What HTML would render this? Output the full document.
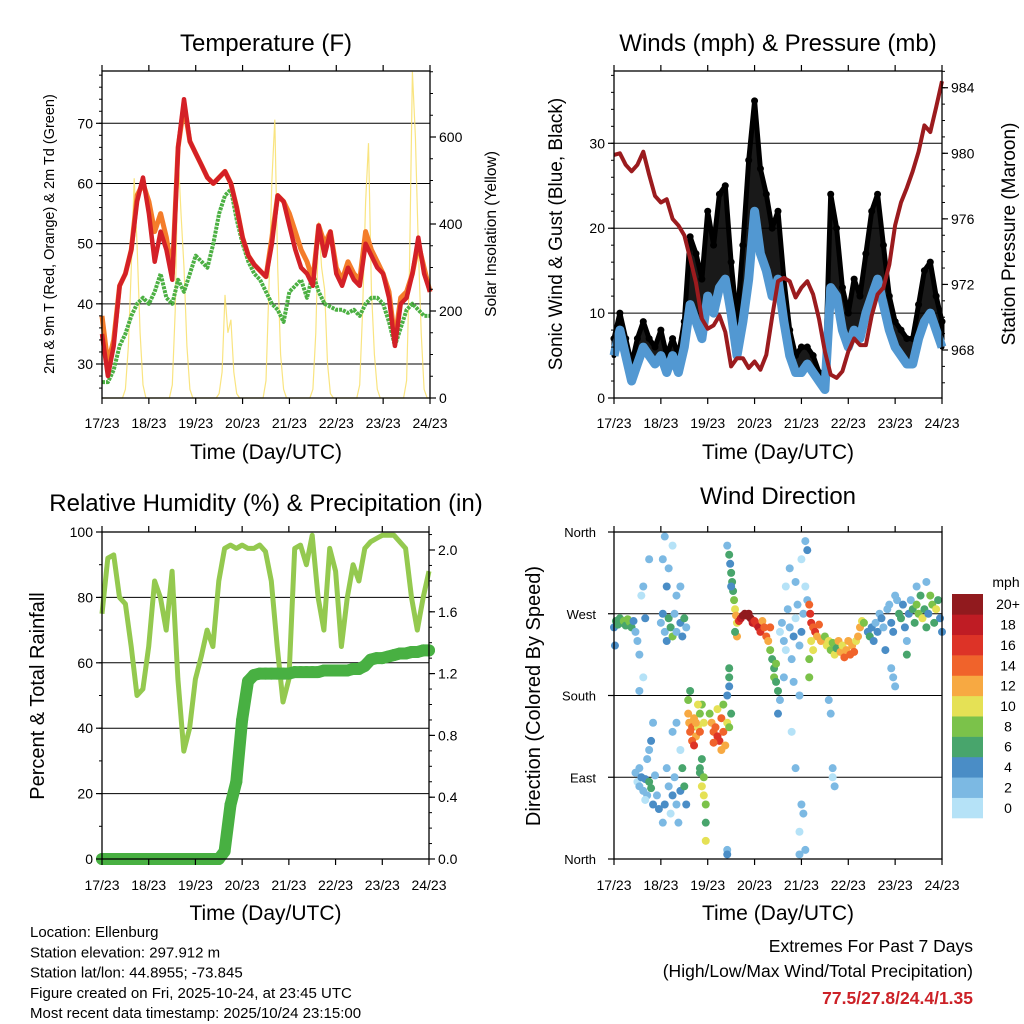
<!DOCTYPE html>
<html><head><meta charset="utf-8">
<style>
html,body{margin:0;padding:0;background:#fff;}
svg{display:block;font-family:"Liberation Sans",Arial,sans-serif;}
</style></head>
<body>
<svg id="fig" width="1024" height="1024" viewBox="0 0 1024 1024"></svg>
<script>
// ---------- DATA ----------
const tempRed=[35,28,33,43,45,49,57,61,55,47,52,49,44,66,74,67,65,63,61,60,61,62,60,56,51,48,46.5,45.5,44.5,50,58,57,53,49,46,45,43,53,48,52,45,43,46,44,43,50,48,46,45,41,33,40,41,45,51,45,42];
const tempOrange=[38,30,34,43,45,49,58,60,57,52,55,51,45,66,73,67,65,63,61,60,61,62,60,56,51,48,46.5,45.5,44.5,51,58,57,55,52,49,47,44,53,50,52,46,44,47,45,44,52,49,47,45,42,34,41,42,45,50,46,42];
const dewGreen=[27,27,29,33,35,38,40,41,40,42,45,41,40,44,42,45,48,47,46,50,55,58,59,54,50,47,45,44,42,40,39,37,42,43,44,41,45,42,40,39.5,39,39,38.5,39,38,40,41,41,40,37,33,36,39,40,39,38,38];
const solar=[0,0,0,0,0,0,0,0,20,120,300,505,350,150,30,0,
0,0,0,0,0,0,0,0,30,200,563,420,300,120,20,0,
0,0,0,0,0,0,0,0,10,60,237,150,180,60,10,0,
0,0,0,0,0,0,0,0,40,250,500,640,300,100,20,0,
0,0,0,0,0,0,0,0,20,150,405,300,250,80,10,0,
0,0,0,0,0,0,0,0,30,200,450,586,250,100,20,0,
0,0,0,0,0,0,0,0,40,300,750,600,350,150,20,0,0];
const windSpd=[5,8,5,2,4,6,5,4,5,3,5,3,6,11,9,7,12,10,13,14,10,5,9,14,22,17,15,12,14,9,5,3,3,4,3,2,1,13,12,8,6,8,7,10,12,14,11,8,6,5,4,4,7,9,10,8,6];
const windGust=[7,10,7,4,7,9,7,6,8,5,7,5,9,19,17,14,22,18,24,25,16,9,18,28,35,27,24,20,22,14,8,5,6,6,5,3,2,24,20,13,10,14,12,17,22,24,18,12,9,8,7,7,11,15,16,12,9];
const pressure=[979.9,980,979.3,978.9,979.3,980.1,978.7,977.4,977,977.2,976,975.6,975,973.6,972.1,969.9,969.3,969.5,970.1,969.1,967,967.5,967.5,966.9,967.3,966.8,967.7,970,972.2,972.4,972.2,971.2,971.8,972.2,971.4,969.9,967.9,966.5,966.3,966.7,967.9,968.7,968.3,968.3,970.1,971.4,971.8,973.2,975.6,977,977.9,978.9,980.1,981.7,981.3,982.8,984.4];
const rhum=[75,92,93,80,78,65,50,52,65,85,80,70,88,55,33,40,55,62,70,65,85,95,96,95,96,95,95,96,94,85,65,48,55,95,96,90,99,80,70,95,88,65,80,90,85,95,97,98,99,99,99,97,95,80,70,80,88];
const precip=[0,0,0,0,0,0,0,0,0,0,0,0,0,0,0,0,0,0,0,0,0,0.05,0.35,0.5,0.9,1.15,1.19,1.2,1.2,1.2,1.2,1.2,1.2,1.21,1.21,1.21,1.21,1.21,1.22,1.22,1.22,1.22,1.22,1.23,1.23,1.25,1.29,1.3,1.3,1.31,1.32,1.33,1.33,1.34,1.34,1.35,1.35];
const dirObs=[[0,255,5],[1,262,6],[2,258,7],[3,265,7],[4,260,6],[5,262,8],[6,257,7],[7,264,8],[8,261,8],[9,255,7],[10,262,4],[11,250,3],[12,240,2],[0.5,235,4],
[13,225,3],[14,290,1],[13,185,2],[15,300,3],[16,265,4],[18,330,2],[15,200,1],
[11,95,2],[12,85,1],[13,80,3],[14,90,4],[15,75,3],[16,88,5],[17,70,2],[18,85,6],[19,78,6],[20,60,4],[21,92,3],[22,70,2],[23,55,4],[13,100,2],[16,65,1],[17,110,3],[19,130,4],[20,150,3],[18,120,2],
[24,260,3],[25,270,4],[26,250,3],[27,240,4],[28,265,6],[29,255,7],[30,245,8],[31,270,2],[32,250,3],[34,260,4],[35,245,5],[36,265,6],[37,255,3],[25,330,3],[26,355,2],[27,300,4],[28,320,3],[30,345,1],[32,290,3],[34,300,2],
[25,40,3],[26,60,4],[27,100,2],[28,80,3],[29,50,1],[30,70,4],[31,90,3],[32,60,2],[33,40,3],[34,75,4],[35,100,6],[36,80,6],[37,60,5],[30,140,3],[32,150,2],[34,120,1],
[38,160,12],[38.5,150,13],[39,140,14],[40,145,15],[41,155,12],[42,135,13],[43,145,10],[44,160,9],[45,170,8],[46,150,11],[38,175,8],[39,185,7],[40,130,14],[41,125,16],[42,150,12],[43,170,10],[44,140,14],
[44,95,7],[45,110,6],[45,80,10],[46,70,10],[46,90,9],[47,60,8],[47,40,7],[47,20,10],[44,100,6],
[49,160,9],[50,150,12],[51,140,14],[52,145,15],[53,135,16],[54,130,17],[55,155,14],[56,140,15],[57,125,13],[58,150,10],[59,145,8],[60,160,6],[53,165,10],[56,170,8],[51,128,14],[55,120,12],[58,180,4],
[58,345,2],[59,335,6],[59.5,325,5],[60,315,6],[60.5,305,7],[61,295,6],[61.5,285,8],[62,275,10],[62.5,268,12],[63,260,10],[63,245,12],[62,250,6],[60,300,5],[59,200,7],[59,210,7],[58,10,2],[58,5,4],[59,190,4],
[64,262,16],[65,265,18],[66,268,20],[67,270,21],[68,268,20],[69,270,22],[70,265,20],[71,260,18],[72,262,17],[73,258,16],[74,255,18],[75,250,16],[76,262,13],[77,255,14],[78,245,15],[79,240,12],[80,255,14],
[80,230,8],[81,220,7],[82,210,6],[82,200,8],[83,195,7],[84,185,6],[83,215,9],[85,175,3],[84,160,4],
[85,250,1],[86,260,2],[87,240,3],[88,230,1],[89,275,2],[90,255,3],[91,220,2],[92,245,4],[93,265,1],[94,280,2],[95,235,3],[96,250,4],[97,270,3],[98,300,1],[99,285,2],[88,300,1],[90,320,2],[93,305,3],[96,330,1],[98,350,2],[99,340,4],[87,200,2],[92,195,3],[95,180,2],[91,140,1],[93,100,2],[96,60,3],[95,30,1],[97,50,3],[98,10,2],[95,5,3],
[100,280,14],[100.5,270,16],[101,260,17],[102,255,15],[103,250,16],[104,245,13],[105,258,14],[106,240,12],[101,240,10],[100,220,9],[100,200,8],[102,230,11],
[108,245,8],[109,235,10],[110,240,11],[111,230,9],[112,238,8],[113,225,10],[114,232,7],[115,240,12],[116,228,13],[117,235,11],[118,222,14],[119,230,12],[120,240,13],[121,225,15],[122,235,12],[123,228,14],[124,240,10],[125,245,12],[126,255,13],[127,262,11],[128,260,9],[110,175,3],[111,160,2],[112,100,2],[113,80,2],[112,90,1],
[130,250,4],[131,245,6],[132,255,5],[133,240,4],[134,260,3],[135,250,5],[136,270,2],[137,265,4],[138,255,3],[139,230,4],[140,275,3],[141,280,2],[142,260,4],[143,250,5],[144,290,2],[145,285,3],[146,270,6],[147,265,7],[148,280,5],[149,255,4],[150,240,3],[151,270,4],[152,285,3],[153,275,6],[154,260,7],[155,280,8],[156,270,9],[157,290,6],[158,265,10],[159,275,7],[160,255,6],[161,270,5],[162,290,8],[163,280,9],[164,260,6],[165,275,10],[166,285,7],[167,265,5],[168,250,4],[142,210,3],[143,200,2],[144,190,2],[150,225,7],[155,300,3],[160,305,2]];
const dayLabels=["17/23","18/23","19/23","20/23","21/23","22/23","23/23","24/23"];
const tempTicks=[30,40,50,60,70];
const solarTicks=[0,200,400,600];
const windTicks=[0,10,20,30];
const presTicks=[968,972,976,980,984];
const rhTicks=[0,20,40,60,80,100];
const precipTicks=[0,0.4,0.8,1.2,1.6,2.0];
const dirTicks=[0,90,180,270,360];
const dirNames=["North","East","South","West","North"];
const speedBins=["0","2","4","6","8","10","12","14","16","18","20+"];
const speedColors=["#b5e2f7","#7cb9e3","#4a8dc6","#48a56c","#7bc24a","#e5e155","#f7a942","#f0632b","#dd3327","#bf1c24","#911a1e"];

// ---------- HELPERS ----------
const NS="http://www.w3.org/2000/svg";
const svg=document.getElementById('fig');
function mk(tag,attrs,parent){const e=document.createElementNS(NS,tag);for(const k in attrs)e.setAttribute(k,attrs[k]);(parent||svg).appendChild(e);return e;}
function txt(s,x,y,size,anchor,parent,extra){const t=mk('text',Object.assign({x:x,y:y,'font-size':size,'text-anchor':anchor||'middle',fill:'#000'},extra||{}),parent);t.textContent=s;return t;}
function lin(d0,d1,r0,r1){return v=>r0+(v-d0)*(r1-r0)/(d1-d0);}
function ptsStr(xs,ys){return xs.map((x,i)=>x.toFixed(1)+','+ys[i].toFixed(1)).join(' ');}

function panel(name){
  const g=mk('g',{});
  
  
  return g;
}
function frame(g,x0,x1,y0,y1){
  const r=mk('rect',{x:x0,y:y0,width:x1-x0,height:y1-y0,fill:'none',stroke:'#000','stroke-width':1.3},g);
  
  
}
function xAxis(g,x0,x1,y0,y1,labelY,titleY){
  const ax=mk('g',{},g);
  
  
  const X=lin(0,7,x0,x1);
  for(let d=0;d<=7;d++){
    mk('line',{x1:X(d),x2:X(d),y1:y1,y2:y1+6,stroke:'#000','stroke-width':1.2},ax);
    mk('line',{x1:X(d),x2:X(d),y1:y0,y2:y0-6,stroke:'#000','stroke-width':1.2},ax);
    const t=txt(dayLabels[d],X(d),labelY,14,'middle',ax);
    
    
  }
  const tt=txt('Time (Day/UTC)',(x0+x1)/2,titleY,21,'middle',ax);
  
  
}
function grid(g,x0,x1,ys){
  ys.forEach(y=>mk('line',{x1:x0,x2:x1,y1:y,y2:y,stroke:'#000','stroke-width':1},g));
}
function yTicks(g,side,xEdge,vals,Y,fmt,nm,minorStep,vmin,vmax){
  const ax=mk('g',{},g);
  
  
  const dir=side==='left'?-1:1;
  vals.forEach(v=>{
    mk('line',{x1:xEdge,x2:xEdge+dir*6,y1:Y(v),y2:Y(v),stroke:'#000','stroke-width':1.2},ax);
    const t=txt(fmt(v),xEdge+dir*9,Y(v)+5,14,side==='left'?'end':'start',ax);
    
    
  });
  if(minorStep){for(let v=vmin;v<=vmax+1e-9;v+=minorStep){mk('line',{x1:xEdge,x2:xEdge+dir*3,y1:Y(v),y2:Y(v),stroke:'#000','stroke-width':1},ax);}}
}
function vTitle(g,s,x,y,size,nm){
  const t=txt(s,x,y,size,'middle',g,{transform:'rotate(-90 '+x+' '+y+')'});
  
  
}

// ---------- PANEL 1: TEMPERATURE ----------
(function(){
  const x0=102,x1=430,y0=71,y1=398;
  const g=panel('temperature-panel');
  const X3=lin(0,56,x0,x1), X15=lin(0,112,x0,x1);
  const Y=lin(30,70,364,123.3), YS=lin(0,600,398,137);
  grid(g,x0,x1,tempTicks.map(Y));
  const sol=mk('polyline',{points:ptsStr(solar.map((v,i)=>X15(i)),solar.map(YS)),fill:'none',stroke:'#f8df6a','stroke-width':1.2,'stroke-opacity':0.85},g);
  
  
  const dg=mk('polyline',{points:ptsStr(dewGreen.map((v,i)=>X3(i)),dewGreen.map(Y)),fill:'none',stroke:'#4cb043','stroke-width':4,'stroke-dasharray':'3 1','stroke-linejoin':'round'},g);
  
  
  const og=mk('polyline',{points:ptsStr(tempOrange.map((v,i)=>X3(i)),tempOrange.map(Y)),fill:'none',stroke:'#f47c2a','stroke-width':5,'stroke-linejoin':'round'},g);
  
  
  const rd=mk('polyline',{points:ptsStr(tempRed.map((v,i)=>X3(i)),tempRed.map(Y)),fill:'none',stroke:'#d42027','stroke-width':4.5,'stroke-linejoin':'round'},g);
  
  
  frame(g,x0,x1,y0,y1);
  yTicks(g,'left',x0,tempTicks,Y,v=>String(v),'temperature-y-axis',2,26,78);
  yTicks(g,'right',x1,solarTicks,YS,v=>String(v),'solar-y-axis',50,0,750);
  xAxis(g,x0,x1,y0,y1,428,459);
  const t=txt('Temperature (F)',266,51,24,'middle',g);
  
  
  vTitle(g,'2m & 9m T (Red, Orange) & 2m Td (Green)',54,234,14.5,'temperature-y-axis-title');
  vTitle(g,'Solar Insolation (Yellow)',496,234,15.5,'solar-y-axis-title');
})();

// ---------- PANEL 2: WINDS ----------
(function(){
  const x0=614,x1=942,y0=71,y1=398;
  const g=panel('winds-panel');
  const X3=lin(0,56,x0,x1);
  const Y=lin(0,30,398,143.3), YP=lin(968,980,350,153.3);
  grid(g,x0,x1,windTicks.slice(1).map(Y));
  const xs=windSpd.map((v,i)=>X3(i));
  const band=mk('polygon',{points:ptsStr(xs.concat(xs.slice().reverse()),windGust.map(Y).concat(windSpd.map(Y).reverse())),fill:'#000','fill-opacity':0.9,stroke:'#000','stroke-width':5,'stroke-linejoin':'round'},g);
  
  
  windGust.forEach((v,i)=>{
    const c=mk('circle',{cx:X3(i),cy:Y(v),r:3.5,fill:'#000'},g);
    
    
  });
  const bl=mk('polyline',{points:ptsStr(xs,windSpd.map(Y)),fill:'none',stroke:'#5298d2','stroke-width':9,'stroke-linejoin':'round'},g);
  
  
  const pr=mk('polyline',{points:ptsStr(xs,pressure.map(YP)),fill:'none',stroke:'#9b1b1e','stroke-width':4,'stroke-linejoin':'round'},g);
  
  
  frame(g,x0,x1,y0,y1);
  yTicks(g,'left',x0,windTicks,Y,v=>String(v),'wind-y-axis',2,0,38);
  yTicks(g,'right',x1,presTicks,YP,v=>String(v),'pressure-y-axis',1,966,985);
  xAxis(g,x0,x1,y0,y1,428,459);
  const t=txt('Winds (mph) & Pressure (mb)',778,51,24,'middle',g);
  
  
  vTitle(g,'Sonic Wind & Gust (Blue, Black)',562,234,19,'wind-y-axis-title');
  vTitle(g,'Station Pressure (Maroon)',1015,234,19,'pressure-y-axis-title');
})();

// ---------- PANEL 3: RH & PRECIP ----------
(function(){
  const x0=102,x1=429,y0=532,y1=859;
  const g=panel('humidity-panel');
  const X3=lin(0,56,x0,x1);
  const Y=lin(0,100,859,532), YP=lin(0,2,859,550);
  grid(g,x0,x1,[20,40,60,80].map(Y));
  const xs=rhum.map((v,i)=>X3(i));
  const rh=mk('polyline',{points:ptsStr(xs,rhum.map(Y)),fill:'none',stroke:'#94c94f','stroke-width':5,'stroke-linejoin':'round'},g);
  
  
  const pc=mk('polyline',{points:ptsStr(xs,precip.map(YP)),fill:'none',stroke:'#48b042','stroke-width':12,'stroke-linejoin':'round','stroke-linecap':'round'},g);
  
  
  precip.forEach((v,i)=>{
    const c=mk('circle',{cx:X3(i),cy:YP(v),r:6,fill:'#48b042'},g);
    
    
  });
  frame(g,x0,x1,y0,y1);
  yTicks(g,'left',x0,rhTicks,Y,v=>String(v),'humidity-y-axis',10,0,100);
  yTicks(g,'right',x1,precipTicks,YP,v=>v.toFixed(1),'precip-y-axis',0.1,0,2.1);
  xAxis(g,x0,x1,y0,y1,890,920);
  const t=txt('Relative Humidity (%) & Precipitation (in)',266,511,24,'middle',g);
  
  
  vTitle(g,'Percent & Total Rainfall',44,696,20,'humidity-y-axis-title');
})();

// ---------- PANEL 4: WIND DIRECTION ----------
(function(){
  const x0=614,x1=942,y0=532,y1=859;
  const g=panel('wind-direction-panel');
  const X=lin(0,168,x0,x1), Y=lin(0,360,859,532);
  grid(g,x0,x1,[90,180,270].map(Y));
  dirObs.forEach(o=>{
    const bin=Math.min(10,Math.floor(o[2]/2));
    const c=mk('circle',{cx:X(o[0]),cy:Y(o[1]),r:4,fill:speedColors[bin]},g);
    
    
  });
  frame(g,x0,x1,y0,y1);
  const ax=mk('g',{},g);
  
  
  dirTicks.forEach((v,i)=>{
    mk('line',{x1:x0,x2:x0-6,y1:Y(v),y2:Y(v),stroke:'#000','stroke-width':1.2},ax);
    const t=txt(dirNames[i],x0-18,Y(v)+5,13,'end',ax);
    
    
  });
  xAxis(g,x0,x1,y0,y1,890,920);
  const t=txt('Wind Direction',778,504,24,'middle',g);
  
  
  vTitle(g,'Direction (Colored By Speed)',540,696,20,'direction-y-axis-title');
  const cb=mk('g',{},g);
  
  
  const mt=txt('mph',1006,587,14,'middle',cb);
  
  
  const bh=(818-594)/speedBins.length;
  speedBins.forEach((lab,i)=>{
    const k=speedBins.length-1-i;
    const r=mk('rect',{x:952,y:594+k*bh,width:31,height:bh+0.3,fill:speedColors[i]},cb);
    
    
    const t=txt(lab,1008,594+k*bh+bh/2+5,14,'middle',cb);
    
    
  });
})();

// ---------- FOOTER TEXT ----------
(function(){
  const g=mk('g',{});
  
  
  const lines=["Location: Ellenburg","Station elevation: 297.912 m","Station lat/lon: 44.8955; -73.845","Figure created on Fri, 2025-10-24, at 23:45 UTC","Most recent data timestamp: 2025/10/24 23:15:00"];
  lines.forEach((s,i)=>{
    const t=txt(s,30,937+i*20.3,15,'start',g);
    
    
  });
  const e=mk('g',{});
  
  
  const a=txt('Extremes For Past 7 Days',973,952,17.5,'end',e);
  
  
  const b=txt('(High/Low/Max Wind/Total Precipitation)',973,977,17.5,'end',e);
  
  
  const c=txt('77.5/27.8/24.4/1.35',973,1004,17.5,'end',e,{fill:'#cc2127','font-weight':'bold'});
  
  
})();
</script>
</body></html>
